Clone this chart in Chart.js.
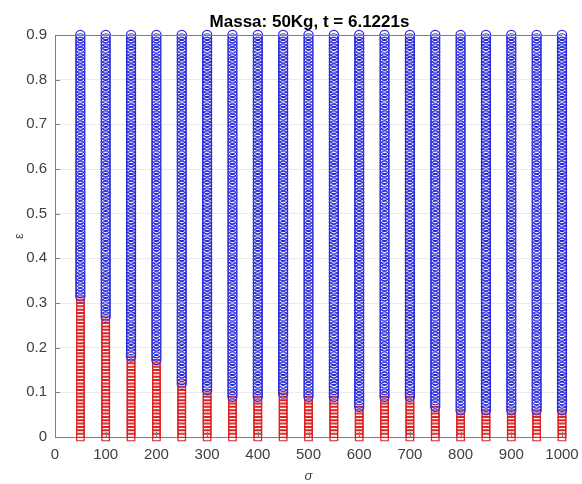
<!DOCTYPE html>
<html>
<head>
<meta charset="utf-8">
<script src="https://cdn.jsdelivr.net/npm/chart.js@4/dist/chart.umd.min.js"></script>
<style>
  html, body { margin: 0; padding: 0; background: #fff; }
  #wrap { width: 582px; height: 484px; }
</style>
</head>
<body>
<div id="wrap"><canvas id="c" width="582" height="484"></canvas></div>
<script>
// sigma values tested (x)
const sigmas = [50, 100, 150, 200, 250, 300, 350, 400, 450, 500, 550, 600, 650, 700, 750, 800, 850, 900, 950, 1000];
// epsilon levels tested (y)
const epsLevels = [0, 0.0075, 0.015, 0.0225, 0.03, 0.0375, 0.045, 0.0525, 0.06, 0.0675,
  0.075, 0.0825, 0.09, 0.0975, 0.105, 0.1125, 0.12, 0.1275, 0.135, 0.1425,
  0.15, 0.1575, 0.165, 0.1725, 0.18, 0.1875, 0.195, 0.2025, 0.21, 0.2175,
  0.225, 0.2325, 0.24, 0.2475, 0.255, 0.2625, 0.27, 0.2775, 0.285, 0.2925,
  0.3, 0.3075, 0.315, 0.3225, 0.33, 0.3375, 0.345, 0.3525, 0.36, 0.3675,
  0.375, 0.3825, 0.39, 0.3975, 0.405, 0.4125, 0.42, 0.4275, 0.435, 0.4425,
  0.45, 0.4575, 0.465, 0.4725, 0.48, 0.4875, 0.495, 0.5025, 0.51, 0.5175,
  0.525, 0.5325, 0.54, 0.5475, 0.555, 0.5625, 0.57, 0.5775, 0.585, 0.5925,
  0.6, 0.6075, 0.615, 0.6225, 0.63, 0.6375, 0.645, 0.6525, 0.66, 0.6675,
  0.675, 0.6825, 0.69, 0.6975, 0.705, 0.7125, 0.72, 0.7275, 0.735, 0.7425,
  0.75, 0.7575, 0.765, 0.7725, 0.78, 0.7875, 0.795, 0.8025, 0.81, 0.8175,
  0.825, 0.8325, 0.84, 0.8475, 0.855, 0.8625, 0.87, 0.8775, 0.885, 0.8925, 0.9];
// highest epsilon marked red (square) for each sigma; above it is blue (circle)
const redLimit = [0.3075, 0.2625, 0.1725, 0.165, 0.1125, 0.1, 0.0825, 0.0825, 0.09, 0.0825,
  0.0825, 0.06, 0.0825, 0.0825, 0.06, 0.0525, 0.0525, 0.0525, 0.0525, 0.0525];
const xTicks = [0, 100, 200, 300, 400, 500, 600, 700, 800, 900, 1000];
const yTicks = [0, 0.1, 0.2, 0.3, 0.4, 0.5, 0.6, 0.7, 0.8, 0.9];
const titleText = 'Massa: 50Kg, t = 6.1221s';

const redPts = [];
const bluePts = [];
sigmas.forEach((s, i) => {
    epsLevels.forEach(e => {
        if (e <= redLimit[i] + 1e-9) redPts.push({ x: s, y: e });
        else bluePts.push({ x: s, y: e });
    });
});

const FONT = '"Liberation Sans", Arial, Helvetica, sans-serif';

// title centred over the plot area, plus top box line and inward ticks
const decor = {
    id: 'decor',
    afterDraw(chart) {
        const ctx = chart.ctx;
        const a = chart.chartArea;
        const xs = chart.scales.x, ys = chart.scales.y;
        ctx.save();
        ctx.strokeStyle = '#7f7f7f';
        ctx.lineWidth = 1;
        ctx.beginPath();
        ctx.moveTo(a.left, Math.round(a.top) + 0.5);
        ctx.lineTo(a.right, Math.round(a.top) + 0.5);
        xTicks.forEach(v => {
            const px = Math.round(xs.getPixelForValue(v)) + 0.5;
            ctx.moveTo(px, a.bottom);
            ctx.lineTo(px, a.bottom - 5);
        });
        yTicks.forEach(v => {
            const py = Math.round(ys.getPixelForValue(v)) + 0.5;
            ctx.moveTo(a.left, py);
            ctx.lineTo(a.left + 5, py);
        });
        ctx.stroke();
        ctx.fillStyle = '#000';
        ctx.font = 'bold 17px ' + FONT;
        ctx.textAlign = 'center';
        ctx.textBaseline = 'alphabetic';
        ctx.fillText(titleText, (a.left + a.right) / 2 + 1, a.top - 8);
        ctx.restore();
    }
};

new Chart(document.getElementById('c'), {
    type: 'scatter',
    data: {
        datasets: [
            {
                label: 'ok',
                data: bluePts,
                pointStyle: 'circle',
                pointRadius: 4.6,
                pointBorderWidth: 1.2,
                pointBorderColor: 'rgb(40,40,215)',
                pointBackgroundColor: 'rgba(0,0,0,0)',
                clip: false
            },
            {
                label: 'fail',
                data: redPts,
                pointStyle: 'rect',
                pointRadius: 5.3,
                pointBorderWidth: 1.2,
                pointBorderColor: 'rgb(220,35,35)',
                pointBackgroundColor: 'rgba(0,0,0,0)',
                clip: false
            }
        ]
    },
    options: {
        responsive: false,
        animation: false,
        events: [],
        layout: { padding: { top: 35, right: 20, left: 0, bottom: 0 } },
        plugins: {
            legend: { display: false },
            tooltip: { enabled: false }
        },
        scales: {
            x: {
                type: 'linear',
                min: 0,
                max: 1000,
                afterBuildTicks: axis => { axis.ticks = xTicks.map(v => ({ value: v })); },
                afterFit: axis => {
                    axis.height = 47;
                    axis.paddingLeft = 0;
                    axis.paddingRight = 0;
                },
                ticks: {
                    color: '#404040',
                    font: { family: FONT, size: 15 },
                    padding: 9,
                    callback: v => String(v)
                },
                grid: { color: '#ebebeb', drawTicks: false },
                border: { color: '#7f7f7f' },
                title: {
                    display: true,
                    text: 'σ',
                    color: '#404040',
                    font: { family: FONT, size: 13, style: 'italic' },
                    padding: { top: 0, bottom: 0 }
                }
            },
            y: {
                type: 'linear',
                min: 0,
                max: 0.9,
                afterBuildTicks: axis => { axis.ticks = yTicks.map(v => ({ value: v })); },
                afterFit: axis => {
                    axis.width = 55;
                    axis.paddingTop = 0;
                    axis.paddingBottom = 0;
                },
                ticks: {
                    color: '#404040',
                    font: { family: FONT, size: 15 },
                    padding: 8,
                    callback: v => String(v)
                },
                grid: { color: '#ebebeb', drawTicks: false },
                border: { color: '#7f7f7f' },
                title: {
                    display: true,
                    text: 'ε',
                    color: '#404040',
                    font: { family: FONT, size: 13 },
                    padding: { top: 12, bottom: 0 }
                }
            }
        }
    },
    plugins: [decor]
});
</script>
</body>
</html>
